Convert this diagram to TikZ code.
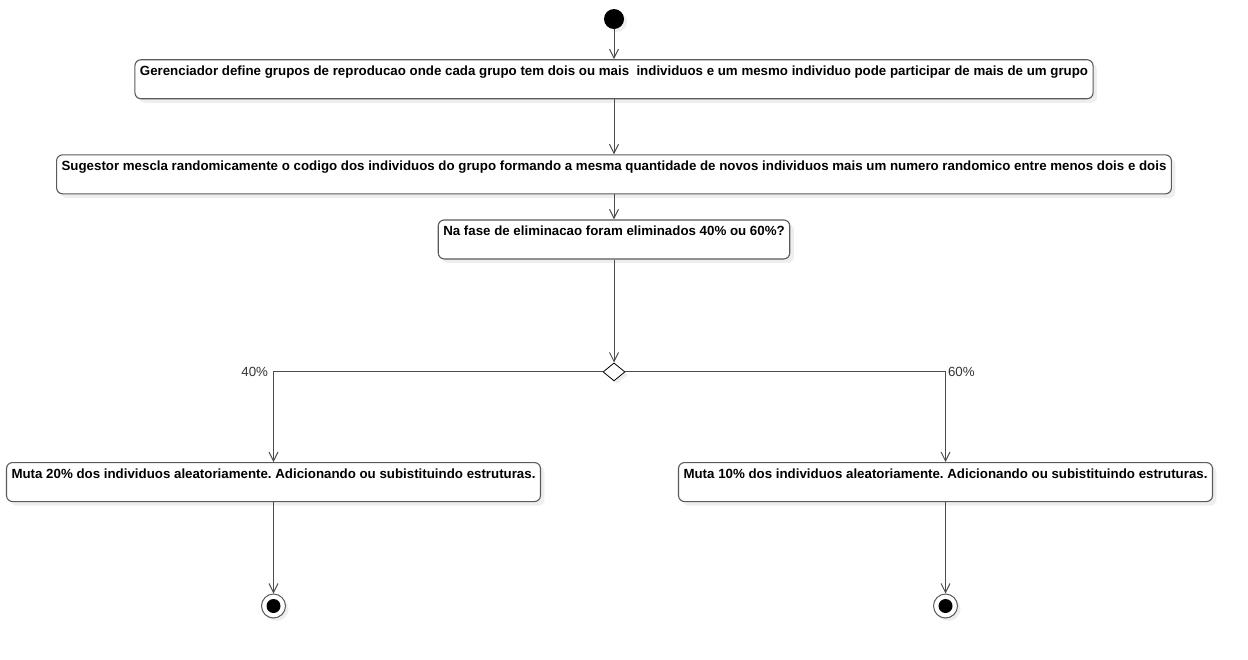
\documentclass[tikz,border=0pt]{standalone}
\usepackage{fontspec}
\setmainfont{Liberation Sans}
\usetikzlibrary{arrows.meta,positioning,shapes.geometric,shadows}
\definecolor{umlLine}{HTML}{5A5A5A}
\definecolor{umlShade}{HTML}{EEEEEE}
\frenchspacing

\begin{document}
\begin{tikzpicture}[x=1pt,y=-1pt,font=\fontsize{13.3}{15}\selectfont,
  actbox/.style={draw=umlLine,line width=1.1pt,rounded corners=6pt,fill=white,
    drop shadow={shadow xshift=4pt,shadow yshift=-4pt,fill=umlShade,opacity=1},
    inner xsep=5pt,inner ysep=0pt,font=\fontsize{13.3}{15}\selectfont\bfseries,
    text height=16pt,text depth=23pt},
  startdot/.style={circle,fill=black,minimum size=20pt,inner sep=0pt,
    drop shadow={shadow xshift=3pt,shadow yshift=-3pt,fill=umlShade,opacity=1}},
  enddot/.style={circle,draw=umlLine,line width=1pt,fill=white,minimum size=24pt,inner sep=0pt,
    drop shadow={shadow xshift=3pt,shadow yshift=-3pt,fill=umlShade,opacity=1},
    path picture={\fill[black] (path picture bounding box.center) circle (7pt);}},
  choice/.style={diamond,draw=black,line width=0.8pt,fill=white,minimum width=22pt,
    minimum height=18pt,inner sep=0pt,
    drop shadow={shadow xshift=3pt,shadow yshift=-3pt,fill=umlShade,opacity=1}},
  flow/.style={draw=umlLine!85!black,line width=1pt,-{Straight Barb[length=9pt,width=9pt]}},
  guard/.style={text=black!80,inner sep=2pt}]
  \useasboundingbox (0,0) rectangle (1248,659);

  \node[startdot] (start) at (614,19) {};
  \node[actbox,below=30pt of start] (gerencia)
    {Gerenciador define grupos de reproducao onde cada grupo tem dois ou mais\ \ individuos e um mesmo individuo pode participar de mais de um grupo};
  \node[actbox,below=55pt of gerencia] (sugestor)
    {Sugestor mescla randomicamente o codigo dos individuos do grupo formando a mesma quantidade de novos individuos mais um numero randomico entre menos dois e dois};
  \node[actbox,below=25pt of sugestor] (fase)
    {Na fase de eliminacao foram eliminados 40\% ou 60\%?};
  \node[choice,below=103pt of fase] (escolha) {};

  \node[actbox,anchor=north] (muta20) at (273.5,462)
    {Muta 20\% dos individuos aleatoriamente. Adicionando ou subistituindo estruturas.};
  \node[actbox,anchor=north] (muta10) at (945.5,462)
    {Muta 10\% dos individuos aleatoriamente. Adicionando ou subistituindo estruturas.};

  \node[enddot] (fim20) at (muta20.center |- 0,606) {};
  \node[enddot] (fim10) at (muta10.center |- 0,606) {};

  \draw[flow] (start) -- (gerencia);
  \draw[flow] (gerencia) -- (sugestor);
  \draw[flow] (sugestor) -- (fase);
  \draw[flow] (fase) -- (escolha);
  \draw[flow] (escolha.west) -| node[pos=0.5,guard,anchor=east,xshift=-3pt] {40\%} (muta20.north);
  \draw[flow] (escolha.east) -| node[pos=0.5,guard,anchor=west] {60\%} (muta10.north);
  \draw[flow] (muta20) -- (fim20);
  \draw[flow] (muta10) -- (fim10);
\end{tikzpicture}
\end{document}
